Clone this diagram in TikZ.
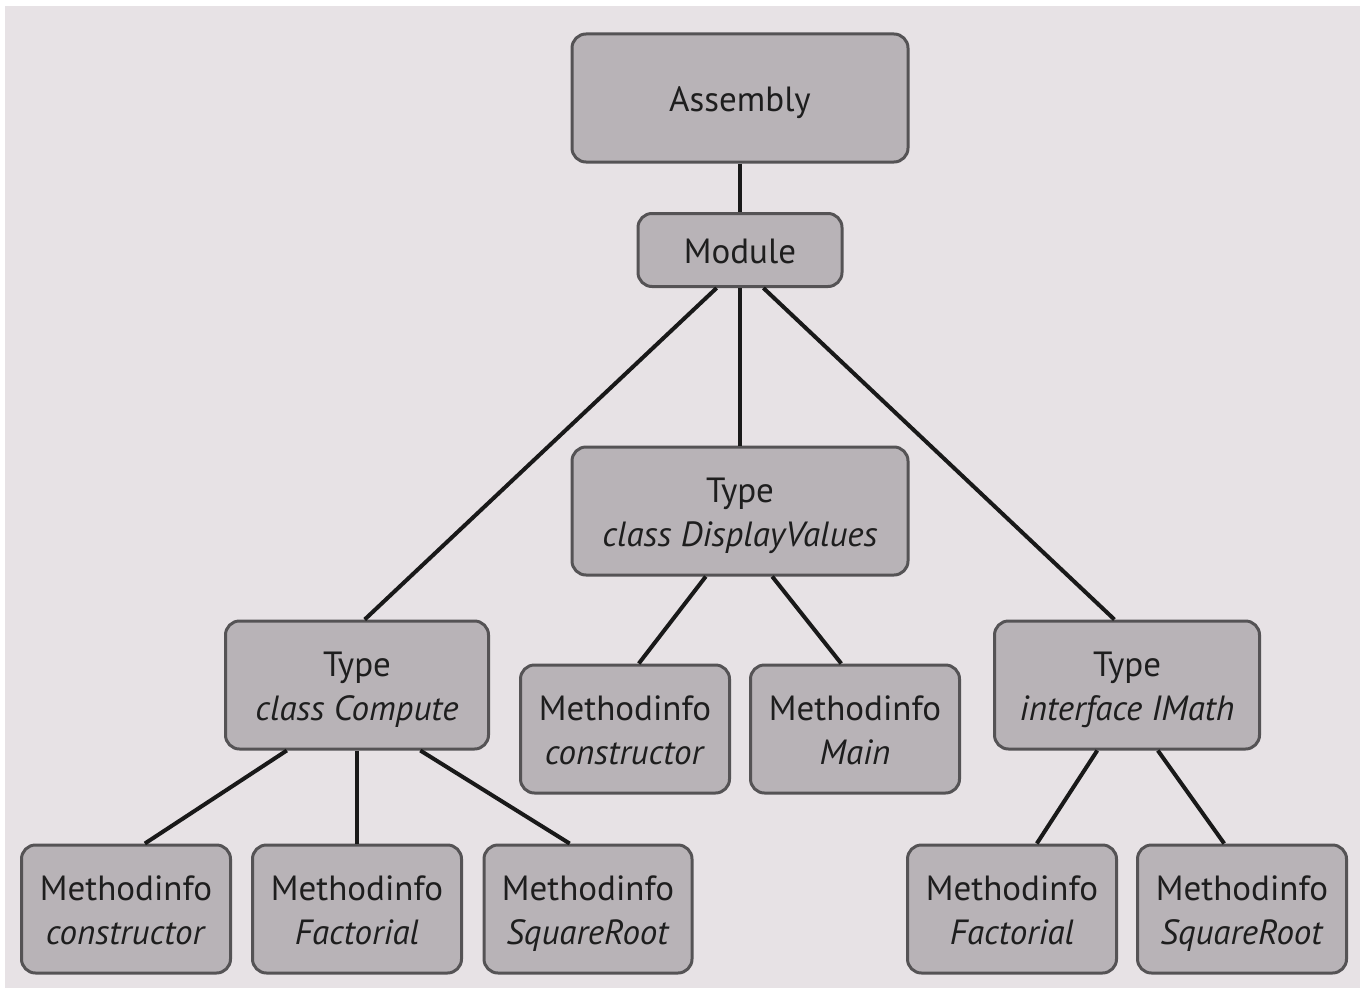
\documentclass[tikz,border=0pt]{standalone}
\usepackage{fontspec}
\setmainfont{PT Sans}
\usetikzlibrary{calc}
\definecolor{bgc}{HTML}{E7E2E5}
\definecolor{boxc}{HTML}{B8B3B7}
\definecolor{edgec}{HTML}{555355}
\definecolor{txtc}{HTML}{1E1E1E}
\newcommand{\twoline}[2]{\strut#1\\\strut\textit{#2}}
\tikzset{
  box/.style={draw=edgec, fill=boxc, line width=3pt, rounded corners=14pt, inner sep=0pt},
  lbl/.style={align=center, text=txtc, font=\fontsize{35}{44}\selectfont, inner sep=0pt, yshift=-5pt},
  conn/.style={line width=4pt, draw=black!90}
}
\begin{document}
\begin{tikzpicture}[x=1pt,y=-1pt]
\useasboundingbox (0,0) rectangle (1364,990);
\fill[white] (0,0) rectangle (1364,990);
\fill[bgc] (5,6) rectangle (1360,988);
\node[box, minimum width=336pt, minimum height=128pt, label={[lbl]center:\strut Assembly}] (asm) at (740,98) {};
\node[box, minimum width=204pt, minimum height=73pt, label={[lbl]center:\strut Module}] (mod) at (740,250) {};
\node[box, minimum width=336pt, minimum height=128pt, label={[lbl]center:\twoline{Type}{class DisplayValues}}] (dv) at (740,511) {};
\node[box, minimum width=263pt, minimum height=128pt, label={[lbl]center:\twoline{Type}{class Compute}}] (cmp) at (357,685) {};
\node[box, minimum width=209pt, minimum height=128pt, label={[lbl]center:\twoline{Methodinfo}{constructor}}] (dvc) at (625,729) {};
\node[box, minimum width=209pt, minimum height=128pt, label={[lbl]center:\twoline{Methodinfo}{Main}}] (dvm) at (855,729) {};
\node[box, minimum width=265pt, minimum height=128pt, label={[lbl]center:\twoline{Type}{interface IMath}}] (im) at (1127,685) {};
\node[box, minimum width=209pt, minimum height=128pt, label={[lbl]center:\twoline{Methodinfo}{constructor}}] (cc) at (126,909) {};
\node[box, minimum width=209pt, minimum height=128pt, label={[lbl]center:\twoline{Methodinfo}{Factorial}}] (cf) at (357,909) {};
\node[box, minimum width=208pt, minimum height=128pt, label={[lbl]center:\twoline{Methodinfo}{SquareRoot}}] (cs) at (588,909) {};
\node[box, minimum width=209pt, minimum height=128pt, label={[lbl]center:\twoline{Methodinfo}{Factorial}}] (imf) at (1012,909) {};
\node[box, minimum width=209pt, minimum height=128pt, label={[lbl]center:\twoline{Methodinfo}{SquareRoot}}] (ims) at (1242,909) {};
\draw[conn] (asm.south) -- (mod.north);
\draw[conn] ($(mod.south west)!0.387!(mod.south east)$) -- ($(cmp.north west)!0.529!(cmp.north east)$);
\draw[conn] (mod.south) -- (dv.north);
\draw[conn] ($(mod.south west)!0.613!(mod.south east)$) -- ($(im.north west)!0.453!(im.north east)$);
\draw[conn] ($(dv.south west)!0.399!(dv.south east)$) -- ($(dvc.north west)!0.565!(dvc.north east)$);
\draw[conn] ($(dv.south west)!0.595!(dv.south east)$) -- ($(dvm.north west)!0.435!(dvm.north east)$);
\draw[conn] ($(cmp.south west)!0.236!(cmp.south east)$) -- ($(cc.north west)!0.589!(cc.north east)$);
\draw[conn] (cmp.south) -- (cf.north);
\draw[conn] ($(cmp.south west)!0.738!(cmp.south east)$) -- ($(cs.north west)!0.413!(cs.north east)$);
\draw[conn] ($(im.south west)!0.389!(im.south east)$) -- ($(imf.north west)!0.617!(imf.north east)$);
\draw[conn] ($(im.south west)!0.615!(im.south east)$) -- ($(ims.north west)!0.416!(ims.north east)$);
\end{tikzpicture}
\end{document}
